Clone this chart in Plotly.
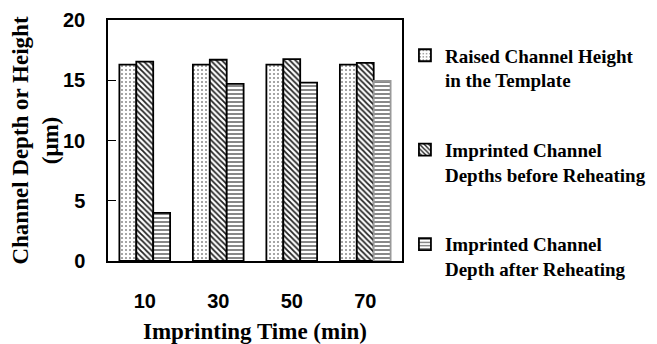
import plotly.graph_objects as go

times = ["10", "30", "50", "70"]
raised_height = [16.3, 16.3, 16.3, 16.3]
depth_before = [16.55, 16.7, 16.75, 16.45]
depth_after = [4.0, 14.7, 14.8, 14.95]

names = [
    "<b>Raised Channel Height<br>in the Template</b>",
    "<b>Imprinted Channel<br>Depths before Reheating</b>",
    "<b>Imprinted Channel<br>Depth after Reheating</b>",
]
series = [raised_height, depth_before, depth_after]
patterns = [
    dict(shape=".", fgcolor="#888888", bgcolor="white", size=4, solidity=0.2, fillmode="replace"),
    dict(shape="\\", fgcolor="#222222", bgcolor="white", size=4, solidity=0.45, fillmode="replace"),
    dict(shape="-", fgcolor="#555555", bgcolor="white", size=4, solidity=0.35, fillmode="replace"),
]
line_colors = [
    "black",
    "black",
    ["black", "black", "black", "#999999"],
]

fig = go.Figure()
for i, (nm, vals, pat, lc) in enumerate(zip(names, series, patterns, line_colors)):
    fig.add_trace(go.Bar(
        x=times, y=vals, name=nm, legendgroup=f"g{i}",
        marker=dict(color="white", pattern=pat, line=dict(color=lc, width=1.8)),
    ))

# The page body adds an 8px margin, so the figure is sized to fit inside it.
fig.update_layout(
    width=649, height=336,
    margin=dict(l=100, r=255, t=12, b=83, autoexpand=False),
    plot_bgcolor="white", paper_bgcolor="white",
    barmode="group", bargap=0.31, bargroupgap=0,
    font=dict(family="Liberation Serif", color="black"),
    showlegend=True,
    legend=dict(
        x=1.01, xanchor="left", y=0.932, yanchor="top",
        font=dict(family="Liberation Serif", size=19, color="black"),
        tracegroupgap=42, traceorder="grouped", valign="top",
        bgcolor="rgba(0,0,0,0)", maxheight=320,
    ),
    xaxis=dict(
        type="category", automargin=False,
        showline=True, linecolor="black", linewidth=1.5, mirror=True,
        ticks="", showgrid=False,
        tickfont=dict(family="Liberation Sans", size=20, color="black", weight="bold"),
        ticklabelstandoff=21,
        title=dict(text="<b>Imprinting Time (min)</b>",
                   font=dict(family="Liberation Serif", size=23, color="black"),
                   standoff=12),
    ),
    yaxis=dict(
        range=[0, 20], tickvals=[0, 5, 10, 15, 20], automargin=False,
        showline=True, linecolor="black", linewidth=1.5, mirror=True,
        ticks="inside", ticklen=8, tickwidth=1, tickcolor="black",
        showgrid=False, zeroline=False,
        tickfont=dict(family="Liberation Sans", size=20, color="black", weight="bold"),
        ticklabelstandoff=17,
        title=dict(text="<b>Channel Depth or Height<br>(μm)</b>",
                   font=dict(family="Liberation Serif", size=23, color="black"),
                   standoff=0),
    ),
)

fig.write_html("out.html")
